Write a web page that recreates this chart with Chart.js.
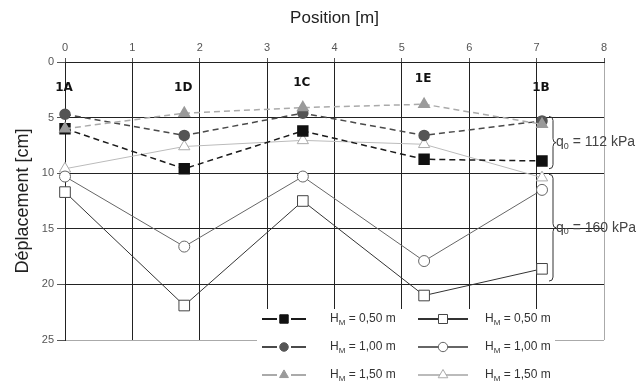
<!DOCTYPE html>
<html>
<head>
<meta charset="utf-8">
<script src="https://cdn.jsdelivr.net/npm/chart.js@4"></script>
<style>
  html, body { margin: 0; padding: 0; background: #fff; }
  #wrap { width: 642px; height: 385px; }
</style>
</head>
<body>
<div id="wrap"><canvas id="chart" width="642" height="385"></canvas></div>
<script>
// borehole positions along the section [m]
const positions = [0, 1.77, 3.53, 5.33, 7.08];
const boreholes = ['1A', '1D', '1C', '1E', '1B'];
const labelDepth = [2.3, 2.3, 1.9, 1.5, 2.3];

// q0 = 112 kPa (dashed, filled markers)
const q112_h050 = [6.0, 9.6, 6.2, 8.75, 8.9];
const q112_h100 = [4.7, 6.6, 4.6, 6.6, 5.3];
const q112_h150 = [6.0, 4.6, 4.1, 3.8, 5.6];

// q0 = 160 kPa (solid, open markers)
const q160_h050 = [11.7, 21.9, 12.5, 21.0, 18.6];
const q160_h100 = [10.3, 16.6, 10.3, 17.9, 11.5];
const q160_h150 = [9.6, 7.6, 7.05, 7.4, 10.4];

const legendLabels = ['0,50', '1,00', '1,50'];
const pressureLabels = ['112', '160'];
const pressureRanges = [[4.9, 9.6], [10.1, 19.7]];

const FONT = 'Liberation Sans';

const pts = (arr) => arr.map((v, i) => ({ x: positions[i], y: v }));

const datasets = [
    { label: 'q112 H050', data: pts(q112_h050), borderColor: '#1a1a1a', backgroundColor: '#111',
      borderDash: [6, 4], borderWidth: 1.5, pointStyle: 'rect', pointRadius: 7, pointBorderColor: '#111', order: 1 },
    { label: 'q112 H100', data: pts(q112_h100), borderColor: '#4a4a4a', backgroundColor: '#555',
      borderDash: [6, 4], borderWidth: 1.5, pointStyle: 'circle', pointRadius: 5, pointBorderColor: '#555', order: 2 },
    { label: 'q112 H150', data: pts(q112_h150), borderColor: '#aaa', backgroundColor: '#9a9a9a',
      borderDash: [6, 4], borderWidth: 1.5, pointStyle: 'triangle', pointRadius: 6, pointBorderColor: '#9a9a9a', order: 0 },
    { label: 'q160 H050', data: pts(q160_h050), borderColor: '#333', backgroundColor: '#fff',
      borderWidth: 1, pointStyle: 'rect', pointRadius: 7.5, pointBorderColor: '#444', pointBorderWidth: 1, order: 3 },
    { label: 'q160 H100', data: pts(q160_h100), borderColor: '#666', backgroundColor: '#fff',
      borderWidth: 1, pointStyle: 'circle', pointRadius: 5.5, pointBorderColor: '#666', pointBorderWidth: 1, order: 4 },
    { label: 'q160 H150', data: pts(q160_h150), borderColor: '#bbb', backgroundColor: '#fff',
      borderWidth: 1, pointStyle: 'triangle', pointRadius: 6.5, pointBorderColor: '#aaa', pointBorderWidth: 1, order: 5 },
];
datasets.forEach(d => { d.clip = false; });

// draws "main" + subscript + rest
function subText(ctx, x, y, main, sub, rest, size) {
    ctx.font = size + 'px ' + FONT;
    ctx.fillText(main, x, y);
    let w = ctx.measureText(main).width;
    ctx.font = Math.round(size * 0.65) + 'px ' + FONT;
    ctx.fillText(sub, x + w, y + size * 0.3);
    w += ctx.measureText(sub).width;
    ctx.font = size + 'px ' + FONT;
    ctx.fillText(rest, x + w, y);
}

const annotations = {
    id: 'annotations',
    afterDatasetsDraw(chart) {
        const ctx = chart.ctx;
        const xs = chart.scales.x, ys = chart.scales.y;
        ctx.save();
        // borehole names
        ctx.fillStyle = '#111';
        ctx.font = 'bold 12px DejaVu Sans';
        ctx.textAlign = 'center';
        ctx.textBaseline = 'middle';
        boreholes.forEach((b, i) => {
            ctx.fillText(b, xs.getPixelForValue(positions[i]) - 1, ys.getPixelForValue(labelDepth[i]));
        });
        // braces for the two load levels
        ctx.strokeStyle = '#333';
        ctx.lineWidth = 1;
        const bx = xs.getPixelForValue(positions[4]) + 7;
        pressureRanges.forEach((r, i) => {
            const y0 = ys.getPixelForValue(r[0]), y1 = ys.getPixelForValue(r[1]);
            const ym = (y0 + y1) / 2;
            ctx.beginPath();
            ctx.moveTo(bx, y0);
            ctx.quadraticCurveTo(bx + 4, y0, bx + 4, y0 + 4);
            ctx.lineTo(bx + 4, ym - 4);
            ctx.quadraticCurveTo(bx + 4, ym, bx + 7, ym);
            ctx.quadraticCurveTo(bx + 4, ym, bx + 4, ym + 4);
            ctx.lineTo(bx + 4, y1 - 4);
            ctx.quadraticCurveTo(bx + 4, y1, bx, y1);
            ctx.stroke();
            ctx.fillStyle = '#444';
            ctx.textAlign = 'left';
            subText(ctx, bx + 7, ym, 'q', '0', ' = ' + pressureLabels[i] + ' kPa', 14);
        });
        ctx.restore();
    },
    afterDraw(chart) {
        const ctx = chart.ctx;
        ctx.save();
        ctx.fillStyle = '#fff';
        ctx.fillRect(257, 309, 298, 76);
        const rows = [319, 347, 375];
        const cols = [
            { x0: 262, x1: 306, tx: 330, set: 0 },
            { x0: 418, x1: 468, tx: 485, set: 3 },
        ];
        cols.forEach(c => {
            rows.forEach((ry, r) => {
                const ds = chart.data.datasets[c.set + r];
                ctx.strokeStyle = ds.borderColor;
                ctx.lineWidth = 2;
                ctx.setLineDash([]);
                const mx = (c.x0 + c.x1) / 2;
                ctx.beginPath();
                if (ds.borderDash) {
                    ctx.moveTo(c.x0, ry); ctx.lineTo(mx - 7, ry);
                    ctx.moveTo(mx + 7, ry); ctx.lineTo(c.x1, ry);
                } else {
                    ctx.moveTo(c.x0, ry); ctx.lineTo(c.x1, ry);
                }
                ctx.stroke();
                ctx.fillStyle = ds.backgroundColor;
                ctx.strokeStyle = ds.pointBorderColor;
                ctx.lineWidth = 1;
                Chart.helpers.drawPoint(ctx, { pointStyle: ds.pointStyle, radius: ds.pointRadius * 0.85, borderWidth: 1, rotation: 0 }, mx, ry);
                ctx.fillStyle = '#333';
                ctx.textAlign = 'left';
                ctx.textBaseline = 'middle';
                subText(ctx, c.tx, ry, 'H', 'M', ' = ' + legendLabels[r] + ' m', 12);
            });
        });
        ctx.restore();
    }
};

new Chart(document.getElementById('chart'), {
    type: 'line',
    data: { datasets: datasets },
    options: {
        responsive: false,
        animation: false,
        layout: { padding: { left: 0, right: 38, top: 0, bottom: 45 } },
        plugins: { legend: { display: false }, tooltip: { enabled: false } },
        elements: { line: { tension: 0, fill: false } },
        scales: {
            x: {
                type: 'linear',
                position: 'top',
                min: 0, max: 8,
                ticks: { stepSize: 1, color: '#555', font: { family: FONT, size: 11 }, padding: 3 },
                grid: {
                    color: (c) => c.tick && c.tick.value === 8 ? '#aaa' : '#222',
                    tickLength: 4,
                    tickColor: '#555'
                },
                border: { color: '#222' },
                title: { display: true, text: 'Position [m]', color: '#222',
                         font: { family: FONT, size: 17 }, padding: { top: 8, bottom: 2 } },
                afterFit: (s) => { s.height = 62; }
            },
            y: {
                type: 'linear',
                reverse: true,
                min: 0, max: 25,
                ticks: { stepSize: 5, color: '#555', font: { family: FONT, size: 11 }, padding: 3 },
                grid: {
                    color: (c) => c.tick && c.tick.value === 25 ? '#aaa' : '#222',
                    tickLength: 8,
                    tickColor: '#555'
                },
                border: { color: '#222' },
                title: { display: true, text: 'Déplacement [cm]', color: '#222',
                         font: { family: FONT, size: 18 }, padding: { top: 12, bottom: 0 } },
                afterFit: (s) => { s.width = 65; }
            }
        }
    },
    plugins: [annotations]
});
</script>
</body>
</html>
